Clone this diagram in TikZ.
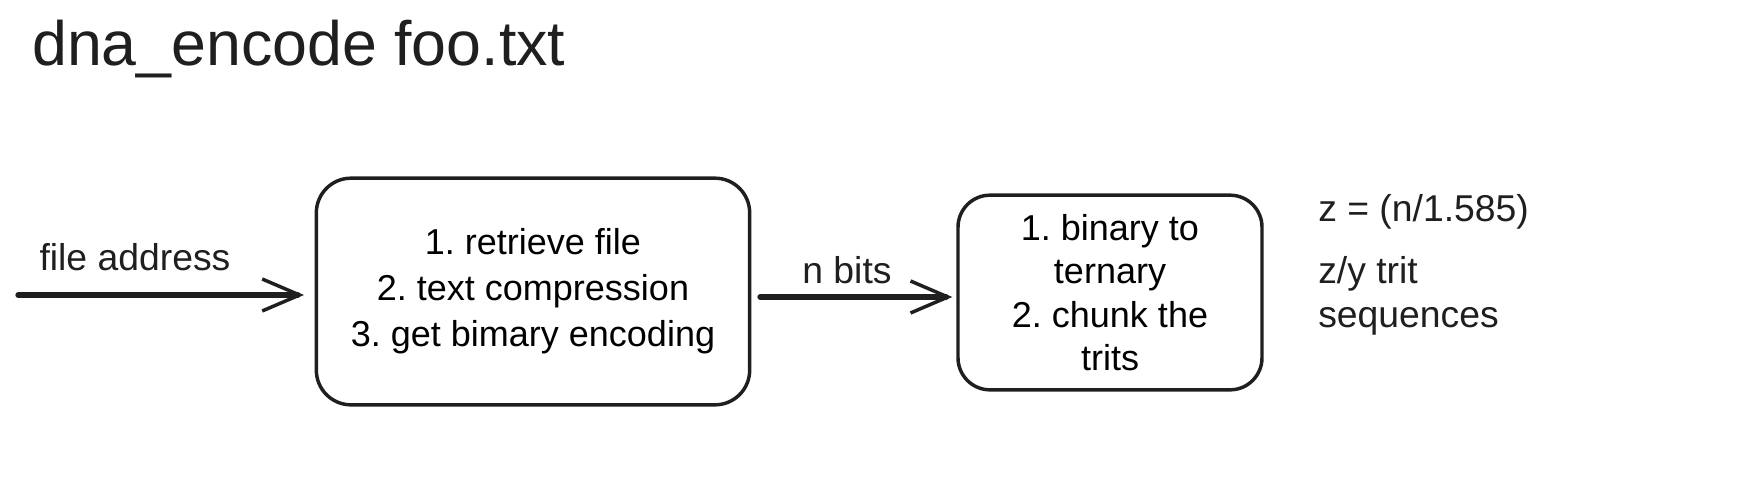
\documentclass[tikz,border=0pt]{standalone}
\usepackage{fontspec}
\setmainfont{Liberation Sans}
\usetikzlibrary{arrows.meta}
\frenchspacing
\begin{document}
\begin{tikzpicture}[x=0.75pt,y=-0.75pt,
  box/.style={draw=black!88, line width=2.6pt, rounded corners=26pt, align=center, inner sep=0pt,
    font=\fontsize{27}{34.5}\selectfont},
  arr/.style={draw=black!88, line width=4pt, line cap=round,
    -{Straight Barb[length=28pt 0, width=24pt 0, line width=2.6pt]}},
  lbl/.style={font=\fontsize{28}{34}\selectfont, inner sep=0pt, text=black!88},
  side/.style={font=\fontsize{28}{34.5}\selectfont, inner sep=0pt, anchor=west, text=black!88}]
\useasboundingbox (0,0) rectangle (1764,476);
\node[font=\fontsize{47}{56}\selectfont, anchor=west, inner sep=0pt, text=black!88] (title) at (32,49) {dna\_encode foo.txt};
\node[box, minimum width=325pt, minimum height=170pt] (b1) at (533,291.5)
  {1. retrieve file\\2. text compression\\3. get bimary encoding};
\node[box, minimum width=228pt, minimum height=146pt, rounded corners=24pt,
  font=\fontsize{27}{32.5}\selectfont] (b2) at (1110,292.5)
  {1. binary to\\ternary\\2. chunk the\\trits};
\coordinate (s1) at (18,295);
\draw[arr, shorten >=8pt] (s1) -- (s1 -| b1.west);
\node[lbl] (l1) at (135,257) {file address};
\coordinate (s2) at (760,297);
\draw[arr, shorten >=3pt] (s2) -- (s2 -| b2.west);
\node[lbl] (l2) at (847,270) {n bits};
\node[side] (r1) at (1318,212) {z = (n/1.585)};
\node[side] (r2) at (1318,274) {z/y trit};
\node[side] (r3) at (1318,321) {sequences};
\end{tikzpicture}
\end{document}
